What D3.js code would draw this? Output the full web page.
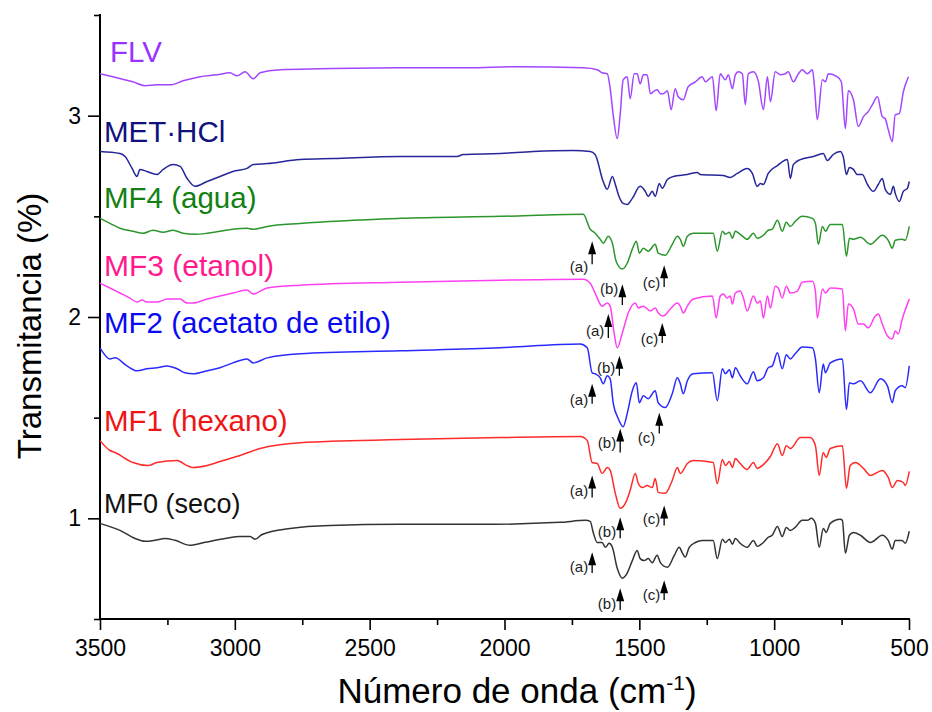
<!DOCTYPE html>
<meta charset="utf-8">
<style>
body { margin:0; background:#fff; }
svg { font-family: "Liberation Sans", Arial, sans-serif; }
.axis path, .axis line { stroke:#000; }
.axis path { stroke-width:2px; }
.axis line { stroke-width:1.6px; }
.axis text { fill:#000; }
</style>
<body>
<svg width="932" height="712" id="vis"></svg>
</body>
<script src="https://d3js.org/d3.v7.min.js"></script>
<script>
// FTIR spectra: [wavenumber (cm-1), transmittance (offset)]
var mf0 = [[3500,0.975],[3455,0.955],[3426,0.94],[3370,0.90],[3333,0.886],[3296,0.891],[3259,0.90],[3222,0.891],[3166,0.866],[3110,0.881],[3036,0.90],[2981,0.91],[2943,0.91],[2925,0.896],[2899,0.92],[2795,0.95],[2647,0.965],[2387,0.97],[2090,0.97],[1793,0.98],[1700,0.99],[1682,0.985],[1671,0.93],[1656,0.88],[1638,0.88],[1626,0.856],[1612,0.876],[1600,0.856],[1582,0.752],[1563,0.703],[1545,0.728],[1526,0.79],[1508,0.84],[1497,0.80],[1482,0.79],[1467,0.80],[1452,0.78],[1434,0.817],[1422,0.78],[1396,0.757],[1370,0.817],[1352,0.856],[1341,0.83],[1330,0.807],[1315,0.856],[1292,0.88],[1267,0.89],[1226,0.89],[1211,0.80],[1192,0.896],[1181,0.88],[1166,0.896],[1155,0.871],[1144,0.90],[1126,0.876],[1100,0.856],[1077,0.89],[1063,0.861],[1040,0.88],[1022,0.906],[1007,0.916],[988,0.96],[970,0.91],[955,0.955],[940,0.94],[922,0.955],[896,0.99],[877,0.99],[862,1.0],[847,0.975],[833,0.856],[818,0.95],[807,0.93],[792,0.975],[755,0.995],[747,0.99],[736,0.827],[721,0.916],[706,0.93],[680,0.916],[643,0.88],[599,0.916],[577,0.89],[562,0.847],[551,0.89],[525,0.89],[514,0.876],[499,0.936]];

var mf1 = [[3500,1.386],[3463,1.337],[3444,1.327],[3378,1.277],[3322,1.262],[3289,1.277],[3214,1.287],[3177,1.262],[3155,1.252],[3103,1.262],[3055,1.282],[2981,1.312],[2906,1.347],[2758,1.376],[2387,1.391],[2016,1.401],[1719,1.406],[1693,1.386],[1675,1.277],[1656,1.272],[1638,1.223],[1619,1.252],[1608,1.238],[1589,1.124],[1571,1.05],[1552,1.074],[1534,1.139],[1515,1.223],[1504,1.173],[1489,1.153],[1471,1.163],[1452,1.153],[1441,1.198],[1430,1.129],[1404,1.124],[1378,1.188],[1359,1.252],[1348,1.223],[1322,1.272],[1300,1.287],[1226,1.277],[1211,1.173],[1192,1.292],[1181,1.262],[1166,1.282],[1155,1.252],[1144,1.297],[1126,1.272],[1100,1.243],[1077,1.277],[1063,1.248],[1040,1.267],[1014,1.307],[988,1.371],[970,1.312],[955,1.361],[940,1.347],[903,1.401],[866,1.401],[847,1.361],[833,1.213],[818,1.327],[807,1.302],[792,1.347],[747,1.361],[732,1.149],[718,1.262],[699,1.277],[669,1.248],[643,1.213],[599,1.238],[577,1.203],[562,1.153],[543,1.188],[521,1.178],[514,1.163],[499,1.233]];

var mf2 = [[3500,1.847],[3463,1.792],[3444,1.797],[3400,1.757],[3363,1.733],[3326,1.743],[3289,1.748],[3251,1.757],[3214,1.743],[3185,1.723],[3155,1.718],[3103,1.733],[3055,1.748],[3007,1.772],[2955,1.792],[2932,1.772],[2880,1.797],[2758,1.817],[2387,1.832],[2016,1.847],[1719,1.866],[1693,1.847],[1675,1.723],[1664,1.718],[1645,1.698],[1634,1.668],[1619,1.708],[1608,1.693],[1597,1.574],[1578,1.495],[1560,1.455],[1545,1.520],[1526,1.634],[1511,1.673],[1500,1.574],[1485,1.609],[1467,1.594],[1441,1.634],[1430,1.574],[1404,1.550],[1378,1.619],[1359,1.698],[1348,1.668],[1337,1.619],[1322,1.683],[1300,1.718],[1229,1.723],[1211,1.584],[1192,1.743],[1181,1.718],[1166,1.738],[1155,1.698],[1144,1.748],[1126,1.708],[1100,1.668],[1077,1.728],[1063,1.683],[1040,1.698],[1022,1.748],[1007,1.757],[988,1.822],[970,1.743],[955,1.812],[940,1.792],[922,1.817],[896,1.851],[858,1.847],[847,1.792],[833,1.624],[818,1.767],[810,1.723],[792,1.772],[747,1.792],[732,1.540],[721,1.673],[706,1.668],[680,1.683],[643,1.624],[606,1.693],[580,1.658],[562,1.574],[551,1.634],[525,1.658],[514,1.649],[499,1.757]];

var mf3 = [[3500,2.168],[3463,2.144],[3426,2.119],[3389,2.094],[3363,2.074],[3344,2.084],[3326,2.074],[3289,2.074],[3251,2.089],[3203,2.089],[3177,2.069],[3155,2.069],[3103,2.089],[3055,2.104],[3007,2.119],[2955,2.134],[2932,2.114],[2880,2.144],[2758,2.158],[2387,2.173],[2016,2.183],[1708,2.188],[1682,2.168],[1664,2.119],[1638,2.054],[1619,2.069],[1608,2.054],[1593,1.916],[1582,1.847],[1563,1.921],[1541,2.020],[1515,2.069],[1504,2.045],[1485,2.054],[1459,2.030],[1441,2.045],[1430,2.020],[1411,2.005],[1385,2.040],[1359,2.069],[1348,2.054],[1337,2.020],[1322,2.054],[1300,2.089],[1229,2.104],[1215,1.995],[1200,2.104],[1189,2.114],[1174,2.094],[1163,2.104],[1155,2.064],[1144,2.119],[1126,2.129],[1114,2.094],[1100,2.030],[1077,2.104],[1063,2.069],[1051,2.079],[1040,1.995],[1025,2.104],[1014,2.045],[996,2.153],[985,2.144],[970,2.094],[955,2.153],[940,2.119],[914,2.129],[896,2.173],[858,2.178],[847,2.129],[840,1.995],[821,2.139],[810,2.119],[792,2.144],[747,2.139],[736,1.931],[725,2.064],[706,2.040],[688,1.965],[669,1.965],[651,1.946],[625,2.005],[614,2.015],[599,1.965],[580,1.906],[562,1.891],[551,1.931],[540,1.916],[525,1.990],[499,2.089]];

var mf4 = [[3500,2.490],[3463,2.465],[3426,2.441],[3378,2.426],[3340,2.416],[3303,2.431],[3266,2.421],[3229,2.431],[3192,2.416],[3148,2.411],[3103,2.416],[3055,2.426],[3007,2.436],[2955,2.441],[2932,2.436],[2880,2.450],[2758,2.465],[2387,2.490],[2016,2.500],[1708,2.510],[1682,2.436],[1664,2.416],[1645,2.386],[1634,2.366],[1615,2.401],[1600,2.366],[1586,2.277],[1563,2.238],[1545,2.267],[1526,2.337],[1511,2.376],[1500,2.317],[1485,2.342],[1467,2.327],[1441,2.361],[1430,2.317],[1404,2.307],[1378,2.361],[1359,2.401],[1348,2.386],[1337,2.351],[1322,2.401],[1300,2.416],[1226,2.416],[1211,2.327],[1192,2.426],[1181,2.411],[1166,2.421],[1155,2.391],[1144,2.426],[1126,2.411],[1100,2.386],[1077,2.416],[1063,2.391],[1040,2.406],[1022,2.431],[1007,2.436],[988,2.480],[970,2.426],[955,2.470],[940,2.450],[922,2.475],[896,2.500],[858,2.490],[847,2.465],[836,2.361],[821,2.450],[810,2.426],[792,2.460],[747,2.460],[732,2.302],[721,2.391],[706,2.386],[680,2.396],[643,2.361],[599,2.406],[577,2.381],[562,2.342],[551,2.381],[525,2.386],[514,2.381],[499,2.450]];

var met = [[3500,2.822],[3426,2.812],[3407,2.797],[3381,2.738],[3363,2.698],[3352,2.733],[3326,2.723],[3289,2.708],[3266,2.733],[3229,2.757],[3203,2.748],[3177,2.688],[3148,2.649],[3103,2.673],[3055,2.698],[3007,2.723],[2955,2.738],[2932,2.757],[2880,2.762],[2758,2.782],[2636,2.787],[2387,2.797],[2176,2.797],[2153,2.807],[2016,2.812],[1894,2.822],[1745,2.827],[1682,2.822],[1664,2.807],[1634,2.673],[1619,2.634],[1600,2.698],[1589,2.658],[1578,2.609],[1560,2.564],[1545,2.559],[1526,2.589],[1497,2.649],[1478,2.624],[1467,2.599],[1452,2.624],[1441,2.599],[1426,2.663],[1415,2.639],[1396,2.683],[1374,2.698],[1322,2.708],[1285,2.718],[1274,2.708],[1189,2.703],[1163,2.693],[1137,2.713],[1100,2.738],[1081,2.713],[1063,2.649],[1051,2.663],[1040,2.658],[1022,2.713],[988,2.752],[951,2.782],[940,2.688],[929,2.757],[903,2.782],[855,2.797],[818,2.812],[803,2.777],[781,2.807],[755,2.822],[744,2.797],[732,2.708],[721,2.743],[706,2.733],[692,2.708],[673,2.708],[654,2.658],[632,2.624],[614,2.658],[599,2.688],[588,2.634],[569,2.609],[558,2.649],[551,2.614],[536,2.574],[521,2.624],[506,2.639],[499,2.673]];

var flv = [[3500,3.208],[3437,3.188],[3378,3.168],[3333,3.149],[3289,3.153],[3240,3.153],[3192,3.173],[3129,3.193],[3066,3.203],[3018,3.213],[2992,3.198],[2962,3.218],[2932,3.183],[2906,3.213],[2832,3.228],[2684,3.233],[2387,3.238],[2138,3.238],[1953,3.243],[1708,3.238],[1656,3.228],[1638,3.213],[1619,3.208],[1608,3.134],[1597,3.005],[1582,2.886],[1571,3.005],[1560,3.178],[1545,3.193],[1534,3.084],[1519,3.208],[1508,3.208],[1497,3.158],[1485,3.203],[1471,3.203],[1459,3.109],[1448,3.119],[1434,3.129],[1422,3.109],[1411,3.109],[1396,3.124],[1382,3.030],[1367,3.134],[1356,3.094],[1337,3.079],[1319,3.144],[1292,3.168],[1267,3.193],[1255,3.168],[1229,3.193],[1215,3.025],[1200,3.208],[1181,3.178],[1170,3.203],[1155,3.134],[1144,3.203],[1133,3.218],[1118,3.208],[1107,3.054],[1096,3.208],[1077,3.218],[1059,3.173],[1040,3.030],[1025,3.193],[1014,3.069],[996,3.218],[977,3.203],[959,3.208],[948,3.218],[929,3.168],[910,3.208],[896,3.228],[877,3.208],[858,3.228],[851,3.153],[840,2.980],[821,3.178],[810,3.168],[799,3.208],[766,3.193],[751,3.168],[736,2.936],[725,3.124],[706,3.079],[688,2.946],[669,2.995],[651,3.020],[636,3.054],[617,3.094],[599,2.995],[588,2.985],[577,2.931],[562,2.871],[551,3.005],[536,3.010],[521,3.119],[502,3.193]];

var seriesData   = [mf0, mf1, mf2, mf3, mf4, met, flv];
var seriesNames  = ["MF0 (seco)", "MF1 (hexano)", "MF2 (acetato de etilo)", "MF3 (etanol)", "MF4 (agua)", "MET\u00b7HCl", "FLV"];
var labelLevels  = [1.025, 1.436, 1.921, 2.203, 2.540, 2.871, 3.267];

// styling per series
var lineColours  = ["#333333", "#ff2a2a", "#2a2aff", "#ff40f0", "#2c962c", "#26269a", "#a246ff"];
var textColours  = ["#111111", "#f01414", "#0a0af0", "#ff1a8c", "#128012", "#10107e", "#9933ff"];
var labelSizes   = [27, 29.5, 29.5, 30, 29.5, 29.5, 29.5];
var labelLeft    = [104, 104, 104, 104, 104, 104, 110];

// band markers: series index, label, wavenumber, arrow tip, arrow tail, label level
var marks = [
  [0,"(a)",1675,0.832,0.728,0.757],[0,"(b)",1571,0.653,0.545,0.574],[0,"(c)",1408,0.693,0.594,0.619],
  [1,"(a)",1675,1.213,1.104,1.134],[1,"(b)",1571,1.005,0.901,0.931],[1,"(c)",1408,1.064,0.965,0.995],
  [2,"(a)",1675,1.668,1.569,1.589],[2,"(b)",1571,1.446,1.327,1.376],[2,"(c)",1426,1.525,1.421,1.401],
  [3,"(a)",1615,2.015,1.896,1.931],[3,"(b)",1574,1.807,1.708,1.748],[3,"(c)",1415,1.970,1.871,1.891],
  [4,"(a)",1675,2.376,2.262,2.248],[4,"(b)",1563,2.163,2.059,2.139],[4,"(c)",1408,2.257,2.149,2.168]
];

var xMajor = [3500, 3000, 2500, 2000, 1500, 1000, 500];
var xMinor = [3250, 2750, 2250, 1750, 1250, 750];
var yMajor = [1, 2, 3];
var yMinor = [0.5, 1.5, 2.5, 3.5];

var svg = d3.select("svg");
var x = d3.scaleLinear().domain([3500, 500]).range([100, 909]);
var y = d3.scaleLinear().domain([0.5, 3.5]).range([619, 15]);

// minor ticks first so the main axis line sits on top
svg.append("g").attr("class", "axis")
    .attr("transform", "translate(0,619)")
    .call(d3.axisBottom(x).tickValues(xMinor).tickSize(6).tickSizeOuter(0).tickFormat(""))
    .select(".domain").remove();
svg.append("g").attr("class", "axis")
    .attr("transform", "translate(100,0)")
    .call(d3.axisLeft(y).tickValues(yMinor).tickSize(6).tickSizeOuter(0).tickFormat(""))
    .select(".domain").remove();

var xAxis = svg.append("g").attr("class", "axis")
    .attr("transform", "translate(0,619)")
    .call(d3.axisBottom(x).tickValues(xMajor).tickSize(11).tickSizeOuter(0).tickPadding(10).tickFormat(d3.format("d")));
xAxis.selectAll("text").style("font-size", "23px");
xAxis.select(".domain").attr("d", "M99,0H910");

var yAxis = svg.append("g").attr("class", "axis")
    .attr("transform", "translate(100,0)")
    .call(d3.axisLeft(y).tickValues(yMajor).tickSize(12).tickSizeOuter(0).tickPadding(7).tickFormat(d3.format("d")));
yAxis.selectAll("text").style("font-size", "23px");
yAxis.select(".domain").attr("d", "M0,14V620");

svg.append("text")
    .attr("transform", "translate(41,326) rotate(-90)")
    .attr("text-anchor", "middle")
    .style("font-size", "33px")
    .text("Transmitancia (%)");

var xt = svg.append("text")
    .attr("x", 517).attr("y", 703)
    .attr("text-anchor", "middle")
    .style("font-size", "35px");
xt.append("tspan").text("Número de onda (cm");
xt.append("tspan").attr("dy", -13).style("font-size", "21px").text("-1");
xt.append("tspan").attr("dy", 13).text(")");

var line = d3.line()
    .x(function(d) { return x(d[0]); })
    .y(function(d) { return y(d[1]); })
    .curve(d3.curveMonotoneX);

svg.selectAll(".spec").data(seriesData).enter().append("path")
    .attr("class", "spec")
    .attr("fill", "none")
    .attr("stroke", function(d, i) { return lineColours[i]; })
    .attr("stroke-width", 1.5)
    .attr("stroke-linejoin", "round")
    .attr("d", line);

svg.selectAll(".lbl").data(seriesNames).enter().append("text")
    .attr("class", "lbl")
    .attr("x", function(d, i) { return labelLeft[i]; })
    .attr("y", function(d, i) { return y(labelLevels[i]); })
    .style("font-size", function(d, i) { return labelSizes[i] + "px"; })
    .attr("fill", function(d, i) { return textColours[i]; })
    .text(function(d) { return d; });

var mk = svg.selectAll(".mark").data(marks).enter().append("g").attr("class", "mark");
mk.append("line")
    .attr("x1", function(d) { return x(d[2]); })
    .attr("x2", function(d) { return x(d[2]); })
    .attr("y1", function(d) { return y(d[4]); })
    .attr("y2", function(d) { return y(d[3]) + 8; })
    .attr("stroke", "#000").attr("stroke-width", 1.3);
mk.append("path")
    .attr("d", function(d) {
        var px = x(d[2]), py = y(d[3]);
        return "M" + px + "," + py + "L" + (px + 4) + "," + (py + 13) + "L" + (px - 4) + "," + (py + 13) + "Z";
    })
    .attr("fill", "#000");
mk.append("text")
    .attr("x", function(d) { return x(d[2]) - 4; })
    .attr("y", function(d) { return y(d[5]) + 5; })
    .attr("text-anchor", "end")
    .style("font-size", "15px")
    .attr("fill", "#222")
    .text(function(d) { return d[1]; });
</script>
